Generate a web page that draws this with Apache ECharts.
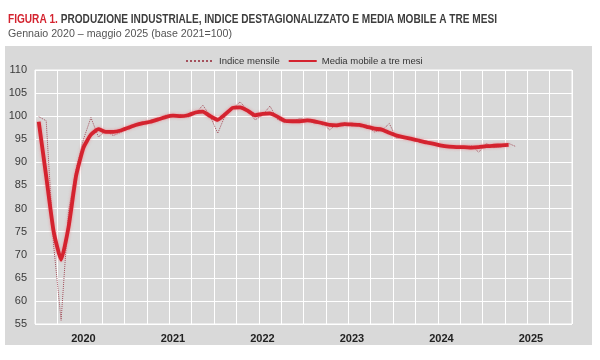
<!DOCTYPE html>
<html>
<head>
<meta charset="utf-8">
<script src="https://cdn.jsdelivr.net/npm/echarts@6/dist/echarts.min.js"></script>
<style>
html,body{margin:0;padding:0;background:#fff;}
#c{width:600px;height:360px;}
</style>
</head>
<body>
<div id="c"></div>
<script>
const years = ['2020', '2021', '2022', '2023', '2024', '2025'];
const months = ['gen', 'feb', 'mar', 'apr', 'mag', 'giu', 'lug', 'ago', 'set', 'ott', 'nov', 'dic'];
const yTicks = [55, 60, 65, 70, 75, 80, 85, 90, 95, 100, 105, 110];

// Indice mensile, gen 2020 - mag 2025
const indiceMensile = [
  99.9, 99.0, 72.0, 55.8, 79.5, 88.5, 95.0, 99.7, 95.5, 96.8, 95.8, 96.5,
  97.6, 98.2, 98.8, 98.6, 99.2, 100.2, 99.9, 100.3, 99.8, 100.5, 102.4, 100.0,
  96.3, 100.2, 101.6, 103.1, 101.3, 99.2, 100.2, 102.2, 99.3, 98.6, 98.8, 99.5,
  99.2, 98.4, 98.7, 97.0, 98.4, 98.6, 98.0, 98.3, 97.8, 96.6, 96.9, 98.4,
  95.2, 95.6, 95.2, 94.5, 94.7, 93.9, 93.6, 93.3, 93.4, 93.2, 93.6, 92.2,
  94.1, 93.2, 93.3, 94.1, 93.4
];

// Media mobile a tre mesi, gen 2020 - apr 2025
const mediaMobile = [
  98.8, 87.0, 75.0, 68.9, 76.0, 87.0, 93.2, 96.0, 97.2, 96.6, 96.6, 96.9,
  97.5, 98.1, 98.5, 98.8, 99.3, 99.8, 100.1, 100.0, 100.2, 100.8, 101.0, 100.0,
  99.2, 100.4, 101.8, 101.9, 101.2, 100.2, 100.5, 100.6, 99.9, 99.0, 98.9, 98.9,
  99.1, 98.9, 98.5, 98.1, 98.0, 98.3, 98.2, 98.1, 97.7, 97.3, 97.1, 96.4,
  95.8, 95.4, 95.1, 94.7, 94.3, 94.0, 93.6, 93.4, 93.3, 93.3, 93.2, 93.3,
  93.5, 93.6, 93.7, 93.8
];

const titleRed = 'FIGURA 1.';
const titleDark = 'PRODUZIONE INDUSTRIALE, INDICE DESTAGIONALIZZATO E MEDIA MOBILE A TRE MESI';
const subtitle = 'Gennaio 2020 – maggio 2025 (base 2021=100)';

const categories = [];
years.forEach(y => months.forEach(m => categories.push(m + ' ' + y)));

const font = "'Liberation Sans', Arial, sans-serif";

// condense the title to the reference's width (narrow typeface look)
const ctx = document.createElement('canvas').getContext('2d');
ctx.font = "bold 12.5px 'Liberation Sans', Arial, sans-serif";
const titleW = ctx.measureText(titleRed + ' ' + titleDark).width;
const titleScale = Math.min(1, 489 / titleW);
ctx.font = "11px 'Liberation Sans', Arial, sans-serif";
const subW = ctx.measureText(subtitle).width;
const subScale = Math.min(1, 224 / subW);

const chart = echarts.init(document.getElementById('c'), null, {renderer: 'canvas'});
chart.setOption({
  animation: false,
  backgroundColor: '#ffffff',
  graphic: {
    elements: [
      {
        type: 'rect', z: -10, left: 5, top: 46,
        shape: {width: 587, height: 299},
        style: {fill: '#d9d9d9'}
      },
      {
        type: 'text', x: 8, y: 13, scaleX: titleScale, originX: 0,
        style: {
          text: '{r|' + titleRed + '} {d|' + titleDark + '}',
          font: "bold 12.5px 'Liberation Sans', Arial, sans-serif",
          rich: {
            r: {fill: '#d4232f', fontFamily: font, fontSize: 12.5, fontWeight: 'bold'},
            d: {fill: '#3d3d3d', fontFamily: font, fontSize: 12.5, fontWeight: 'bold'}
          }
        }
      },
      {
        type: 'text', x: 8, y: 28, scaleX: subScale, originX: 0,
        style: {
          text: subtitle, fill: '#555555',
          font: "11px 'Liberation Sans', Arial, sans-serif"
        }
      }
    ]
  },
  legend: {
    top: 51, left: 180,
    itemWidth: 28, itemHeight: 8, itemGap: 8,
    itemStyle: {opacity: 0},
    textStyle: {fontFamily: font, fontSize: 9.5, color: '#333333'},
    data: ['Indice mensile', 'Media mobile a tre mesi']
  },
  grid: {
    left: 35, right: 28, top: 70, bottom: 36,
    show: true, backgroundColor: '#d9d9d9', borderColor: '#ffffff', borderWidth: 1
  },
  xAxis: {
    type: 'category', data: categories, boundaryGap: true,
    axisLine: {show: false}, axisTick: {show: false, interval: 2},
    axisLabel: {
      interval: (i) => i % 12 === 6,
      formatter: (v) => v.split(' ')[1],
      fontFamily: font, fontSize: 11, fontWeight: 'bold', color: '#222222', margin: 9
    },
    splitLine: {show: true, interval: 2, lineStyle: {color: '#ffffff', width: 1}}
  },
  yAxis: {
    type: 'value', min: yTicks[0], max: yTicks[yTicks.length - 1], interval: 5,
    axisLine: {show: false}, axisTick: {show: false},
    axisLabel: {fontFamily: font, fontSize: 11, color: '#3a3a3a', margin: 8},
    splitLine: {show: true, lineStyle: {color: '#ffffff', width: 1}}
  },
  series: [
    {
      name: 'Indice mensile', type: 'line', data: indiceMensile,
      symbol: 'none', z: 3,
      lineStyle: {color: '#a4505c', width: 1, type: 'dotted'},
      itemStyle: {color: '#a4505c'}
    },
    {
      name: 'Media mobile a tre mesi', type: 'line', data: mediaMobile,
      symbol: 'none', z: 4, smooth: 0.15,
      lineStyle: {color: '#d4232f', width: 3.8, shadowColor: 'rgba(240,110,120,0.7)', shadowBlur: 3},
      itemStyle: {color: '#d4232f'}
    }
  ]
});
</script>
</body>
</html>
